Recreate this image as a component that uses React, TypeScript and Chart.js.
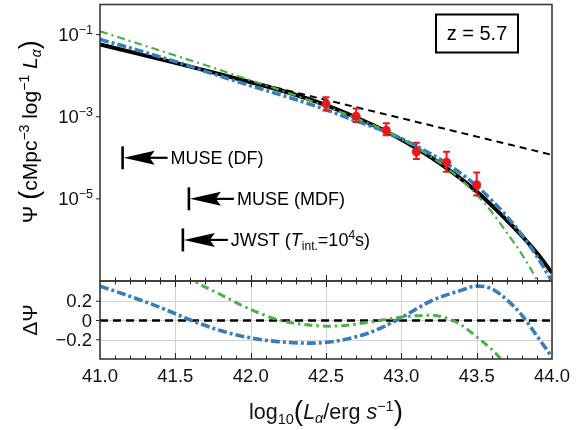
import React, { useEffect, useRef } from "react";
import { Chart, registerables } from "chart.js";
Chart.register(...registerables);

const FONT = '"Liberation Sans", Arial, Helvetica, sans-serif';
const RED = "#e41a1c";
const BLUE = "#377eb8";
const GREEN = "#4daf4a";

// ---- top panel: model curves (x = log10 L, y = Psi) ----
const xModel = [41.0, 41.25, 41.5, 41.75, 42.0, 42.25, 42.5, 42.7, 42.9, 43.1, 43.3, 43.5, 43.7, 43.8, 43.9, 44.0];
const psiBest = [5.75e-2, 3.43e-2, 2.04e-2, 1.2e-2, 6.92e-3, 3.89e-3, 1.91e-3, 9.55e-4, 4.37e-4, 1.7e-4, 5.62e-5, 1.51e-5, 3.02e-6, 1.26e-6, 4.79e-7, 1.58e-7];
const psiBlue = [7.59e-2, 4.18e-2, 2.2e-2, 1.11e-2, 5.68e-3, 2.99e-3, 1.48e-3, 7.87e-4, 4.24e-4, 1.92e-4, 7.26e-5, 2.06e-5, 3.72e-6, 1.33e-6, 3.97e-7, 9.8e-8];
const xGreen = [41.0, 41.25, 41.5, 41.75, 42.0, 42.25, 42.5, 42.7, 42.9, 43.1, 43.3, 43.4, 43.5, 43.6, 43.7, 43.8, 43.9, 44.0];
const psiGreen = [1.2e-1, 6.1e-2, 3.09e-2, 1.57e-2, 7.71e-3, 3.81e-3, 1.79e-3, 9.23e-4, 4.46e-4, 1.78e-4, 5.74e-5, 2.84e-5, 1.26e-5, 4.78e-6, 1.51e-6, 4.47e-7, 1.07e-7, 2.0e-8];
const xPower = [41.0, 42.0, 43.0, 44.0];
const psiPower = [5.62e-2, 7.19e-3, 9.2e-4, 1.175e-4];

// observed points with error bars
const xObs = [42.5, 42.7, 42.9, 43.1, 43.3, 43.5];
const psiObs = [2.06e-3, 1.03e-3, 4.68e-4, 1.4e-4, 7.8e-5, 2.21e-5];
const psiObsHi = [2.97e-3, 1.58e-3, 6.9e-4, 2.31e-4, 1.4e-4, 4.37e-5];
const psiObsLo = [1.42e-3, 7.4e-4, 3.55e-4, 9.3e-5, 4.6e-5, 1.2e-5];

// detection limits
const limitX = [41.15, 41.59, 41.55];
const limitPsi = [1e-4, 1e-5, 1e-6];

// ---- bottom panel: residuals ----
const xResBlue = [41.0, 41.2, 41.4, 41.6, 41.8, 42.0, 42.2, 42.4, 42.6, 42.8, 43.0, 43.2, 43.4, 43.5, 43.6, 43.7, 43.8, 43.9, 44.0];
const resBlue = [0.357, 0.25, 0.135, 0.005, -0.105, -0.181, -0.222, -0.235, -0.205, -0.12, 0.03, 0.205, 0.315, 0.357, 0.33, 0.215, 0.055, -0.16, -0.38];
const xResGreen = [41.4, 41.6, 41.8, 42.0, 42.2, 42.4, 42.5, 42.6, 42.8, 43.0, 43.2, 43.3, 43.4, 43.5, 43.6, 43.7];
const resGreen = [0.75, 0.44, 0.27, 0.115, 0.0, -0.05, -0.059, -0.055, -0.015, 0.035, 0.055, 0.025, -0.05, -0.17, -0.3, -0.47];
const xZero = [41.0, 44.0];
const resZero = [0, 0];

// ticks
const xTicks = [41.0, 41.5, 42.0, 42.5, 43.0, 43.5, 44.0];
const yTicksTop = [1e-1, 1e-3, 1e-5];
const yTickExpTop = ["\u22121", "\u22123", "\u22125"];
const yTicksRes = [0.2, 0, -0.2];
const yTickResLabels = ["0.2", "0", "\u22120.2"];

type Seg = { t: string; size: number; italic?: boolean; dy?: number };
const segFont = (s: Seg) => `${s.italic ? "italic " : ""}${s.size}px ${FONT}`;
function richWidth(ctx: CanvasRenderingContext2D, segs: Seg[]) {
  let w = 0;
  for (const s of segs) {
    ctx.font = segFont(s);
    w += ctx.measureText(s.t).width;
  }
  return w;
}
function drawRich(ctx: CanvasRenderingContext2D, segs: Seg[], x: number, y: number, align: "left" | "center" | "right") {
  const w = richWidth(ctx, segs);
  let cx = align === "center" ? x - w / 2 : align === "right" ? x - w : x;
  ctx.textAlign = "left";
  ctx.textBaseline = "alphabetic";
  for (const s of segs) {
    ctx.font = segFont(s);
    ctx.fillText(s.t, cx, y + (s.dy || 0));
    cx += ctx.measureText(s.t).width;
  }
}

const limitLabels: Seg[][] = [
  [{ t: "MUSE (DF)", size: 18 }],
  [{ t: "MUSE (MDF)", size: 18 }],
  [
    { t: "JWST (", size: 18 },
    { t: "T", size: 18, italic: true },
    { t: "int.", size: 12, dy: 4 },
    { t: "=10", size: 18 },
    { t: "4", size: 12, dy: -7 },
    { t: "s)", size: 18 },
  ],
];

function drawInwardXTicks(ctx: CanvasRenderingContext2D, xs: any, y: number, dir: number) {
  ctx.beginPath();
  for (let k = 1; k < 30; k++) {
    const v = 41 + k * 0.1;
    const len = k % 5 === 0 ? 6 : 3.5;
    const px = Math.round(xs.getPixelForValue(v)) + 0.5;
    ctx.moveTo(px, y);
    ctx.lineTo(px, y + dir * len);
  }
  ctx.stroke();
}

const topPlugin = {
  id: "topDecor",
  afterDatasetsDraw(chart: any) {
    const ctx: CanvasRenderingContext2D = chart.ctx;
    const xs = chart.scales.x;
    const ys = chart.scales.y;
    ctx.save();
    ctx.strokeStyle = RED;
    ctx.lineWidth = 2;
    xObs.forEach((xv, i) => {
      const px = xs.getPixelForValue(xv);
      const hi = ys.getPixelForValue(psiObsHi[i]);
      const lo = ys.getPixelForValue(psiObsLo[i]);
      ctx.beginPath();
      ctx.moveTo(px, hi);
      ctx.lineTo(px, lo);
      ctx.moveTo(px - 3.5, hi);
      ctx.lineTo(px + 3.5, hi);
      ctx.moveTo(px - 3.5, lo);
      ctx.lineTo(px + 3.5, lo);
      ctx.stroke();
    });
    ctx.restore();
  },
  afterDraw(chart: any) {
    const ctx: CanvasRenderingContext2D = chart.ctx;
    const a = chart.chartArea;
    const xs = chart.scales.x;
    const ys = chart.scales.y;
    ctx.save();
    // frame
    ctx.strokeStyle = "#3a3a3a";
    ctx.lineWidth = 1.6;
    ctx.strokeRect(a.left, a.top, a.right - a.left, a.bottom - a.top);
    // x ticks inward at bottom
    ctx.lineWidth = 1;
    ctx.strokeStyle = "#222";
    drawInwardXTicks(ctx, xs, a.bottom, -1);
    // y ticks outward + labels
    ctx.fillStyle = "#111";
    yTicksTop.forEach((v, i) => {
      const py = ys.getPixelForValue(v);
      ctx.beginPath();
      ctx.moveTo(a.left, py);
      ctx.lineTo(a.left - 4, py);
      ctx.stroke();
      drawRich(ctx, [{ t: "10", size: 18.5 }, { t: yTickExpTop[i], size: 12.5, dy: -7 }], a.left - 7, py + 6.5, "right");
    });
    // detection-limit arrows
    ctx.fillStyle = "#000";
    ctx.strokeStyle = "#000";
    limitX.forEach((xv, i) => {
      const px = xs.getPixelForValue(xv);
      const py = ys.getPixelForValue(limitPsi[i]);
      ctx.lineWidth = 2.6;
      ctx.beginPath();
      ctx.moveTo(px, py - 11.5);
      ctx.lineTo(px, py + 11.5);
      ctx.stroke();
      ctx.lineWidth = 2.2;
      ctx.beginPath();
      ctx.moveTo(px + 20, py);
      ctx.lineTo(px + 45, py);
      ctx.stroke();
      ctx.beginPath();
      ctx.moveTo(px + 1, py);
      ctx.lineTo(px + 32, py - 7);
      ctx.lineTo(px + 27, py);
      ctx.lineTo(px + 32, py + 7);
      ctx.closePath();
      ctx.fill();
      drawRich(ctx, limitLabels[i], px + 48, py + 6.5, "left");
    });
    // redshift box
    ctx.lineWidth = 2;
    ctx.strokeRect(a.right - 116, a.top + 10, 82, 38);
    ctx.font = `20px ${FONT}`;
    ctx.textAlign = "center";
    ctx.textBaseline = "middle";
    ctx.fillText("z = 5.7", a.right - 75, a.top + 30);
    // y title
    ctx.save();
    ctx.translate(37, (a.top + a.bottom) / 2 - 11);
    ctx.rotate(-Math.PI / 2);
    drawRich(
      ctx,
      [
        { t: "\u03A8 ", size: 21 },
        { t: "(", size: 27, dy: 1 },
        { t: "cMpc", size: 21 },
        { t: "\u22123", size: 14, dy: -8 },
        { t: " log", size: 21 },
        { t: "\u22121", size: 14, dy: -8 },
        { t: " ", size: 21 },
        { t: "L", size: 21, italic: true },
        { t: "\u03B1", size: 14, italic: true, dy: 4 },
        { t: ")", size: 27, dy: 1 },
      ],
      0,
      0,
      "center"
    );
    ctx.restore();
    ctx.restore();
  },
};

const botPlugin = {
  id: "botDecor",
  beforeDatasetsDraw(chart: any) {
    const ctx: CanvasRenderingContext2D = chart.ctx;
    const a = chart.chartArea;
    const xs = chart.scales.x;
    const ys = chart.scales.y;
    ctx.save();
    ctx.strokeStyle = "#d2d2d2";
    ctx.lineWidth = 1;
    ctx.beginPath();
    xTicks.forEach((v) => {
      const px = Math.round(xs.getPixelForValue(v)) + 0.5;
      ctx.moveTo(px, a.top);
      ctx.lineTo(px, a.bottom);
    });
    yTicksRes.forEach((v) => {
      const py = Math.round(ys.getPixelForValue(v)) + 0.5;
      ctx.moveTo(a.left, py);
      ctx.lineTo(a.right, py);
    });
    ctx.stroke();
    ctx.restore();
  },
  afterDraw(chart: any) {
    const ctx: CanvasRenderingContext2D = chart.ctx;
    const a = chart.chartArea;
    const xs = chart.scales.x;
    const ys = chart.scales.y;
    ctx.save();
    ctx.strokeStyle = "#3a3a3a";
    ctx.lineWidth = 1.6;
    ctx.strokeRect(a.left, a.top, a.right - a.left, a.bottom - a.top);
    ctx.lineWidth = 1;
    ctx.strokeStyle = "#222";
    drawInwardXTicks(ctx, xs, a.top, 1);
    drawInwardXTicks(ctx, xs, a.bottom, -1);
    ctx.fillStyle = "#111";
    // y ticks + labels
    yTicksRes.forEach((v, i) => {
      const py = ys.getPixelForValue(v);
      ctx.beginPath();
      ctx.moveTo(a.left, py);
      ctx.lineTo(a.left - 4, py);
      ctx.stroke();
      ctx.font = `18.5px ${FONT}`;
      ctx.textAlign = "right";
      ctx.textBaseline = "middle";
      ctx.fillText(yTickResLabels[i], a.left - 8, py + 1);
    });
    // x tick labels
    xTicks.forEach((v) => {
      const px = xs.getPixelForValue(v);
      ctx.font = `18.5px ${FONT}`;
      ctx.textAlign = "center";
      ctx.textBaseline = "middle";
      ctx.fillText(v.toFixed(1), px, a.bottom + 18);
    });
    // x title
    drawRich(
      ctx,
      [
        { t: "log", size: 21.5 },
        { t: "10", size: 14.5, dy: 5 },
        { t: "(", size: 28, dy: 1 },
        { t: "L", size: 21.5, italic: true },
        { t: "\u03B1", size: 14.5, italic: true, dy: 4 },
        { t: "/erg ", size: 21.5 },
        { t: "s", size: 21.5, italic: true },
        { t: "\u22121", size: 14.5, dy: -8 },
        { t: ")", size: 28, dy: 1 },
      ],
      (a.left + a.right) / 2,
      419,
      "center"
    );
    // y title
    ctx.save();
    ctx.translate(37, (a.top + a.bottom) / 2);
    ctx.rotate(-Math.PI / 2);
    drawRich(ctx, [{ t: "\u0394\u03A8", size: 21 }], 0, 0, "center");
    ctx.restore();
    ctx.restore();
  },
};

const pts = (xv: number[], yv: number[]) => xv.map((x, i) => ({ x, y: yv[i] }));
const lineDs = (data: any, color: string, width: number, dash: number[]) => ({
  data,
  borderColor: color,
  borderWidth: width,
  borderDash: dash,
  borderCapStyle: "butt",
  pointRadius: 0,
  fill: false,
  cubicInterpolationMode: "monotone",
});

export default function App() {
  const topRef = useRef<HTMLCanvasElement>(null);
  const botRef = useRef<HTMLCanvasElement>(null);

  useEffect(() => {
    const common = {
      responsive: false,
      animation: false,
      devicePixelRatio: 1,
      events: [],
      plugins: { legend: { display: false }, tooltip: { enabled: false }, title: { display: false } },
    };
    const top = new Chart(topRef.current as HTMLCanvasElement, {
      type: "line",
      data: {
        datasets: [
          {
            data: pts(xObs, psiObs),
            showLine: false,
            pointRadius: 4.5,
            pointBackgroundColor: RED,
            pointBorderWidth: 0,
            borderColor: RED,
          } as any,
          lineDs(pts(xGreen, psiGreen), GREEN, 2.2, [8, 4, 2, 4]),
          lineDs(pts(xModel, psiBlue), BLUE, 3.6, [9, 3, 3, 3]),
          lineDs(pts(xPower, psiPower), "#000", 2, [7, 5]),
          lineDs(pts(xModel, psiBest), "#000", 4, []),
        ],
      },
      options: {
        ...common,
        layout: { padding: { left: 100, top: 3, right: 29, bottom: 149 } },
        scales: {
          x: { type: "linear", min: 41, max: 44, display: false },
          y: { type: "logarithmic", min: 1e-7, max: 0.54, display: false },
        },
      } as any,
      plugins: [topPlugin],
    });
    const bot = new Chart(botRef.current as HTMLCanvasElement, {
      type: "line",
      data: {
        datasets: [
          lineDs(pts(xResGreen, resGreen), GREEN, 3, [8, 4, 2.5, 4]),
          lineDs(pts(xResBlue, resBlue), BLUE, 3.6, [9, 3, 3, 3]),
          lineDs(pts(xZero, resZero), "#000", 2.5, [8, 5]),
        ],
      },
      options: {
        ...common,
        layout: { padding: { left: 100, top: 281, right: 29, bottom: 71 } },
        scales: {
          x: { type: "linear", min: 41, max: 44, display: false },
          y: { type: "linear", min: -0.4, max: 0.41, display: false },
        },
      } as any,
      plugins: [botPlugin],
    });
    return () => {
      top.destroy();
      bot.destroy();
    };
  }, []);

  const cs: React.CSSProperties = { position: "absolute", left: 0, top: 0, width: 581, height: 430 };
  return (
    <div style={{ position: "fixed", left: 0, top: 0, width: 581, height: 430, background: "#fff" }}>
      <canvas ref={topRef} width={581} height={430} style={cs} />
      <canvas ref={botRef} width={581} height={430} style={cs} />
    </div>
  );
}
